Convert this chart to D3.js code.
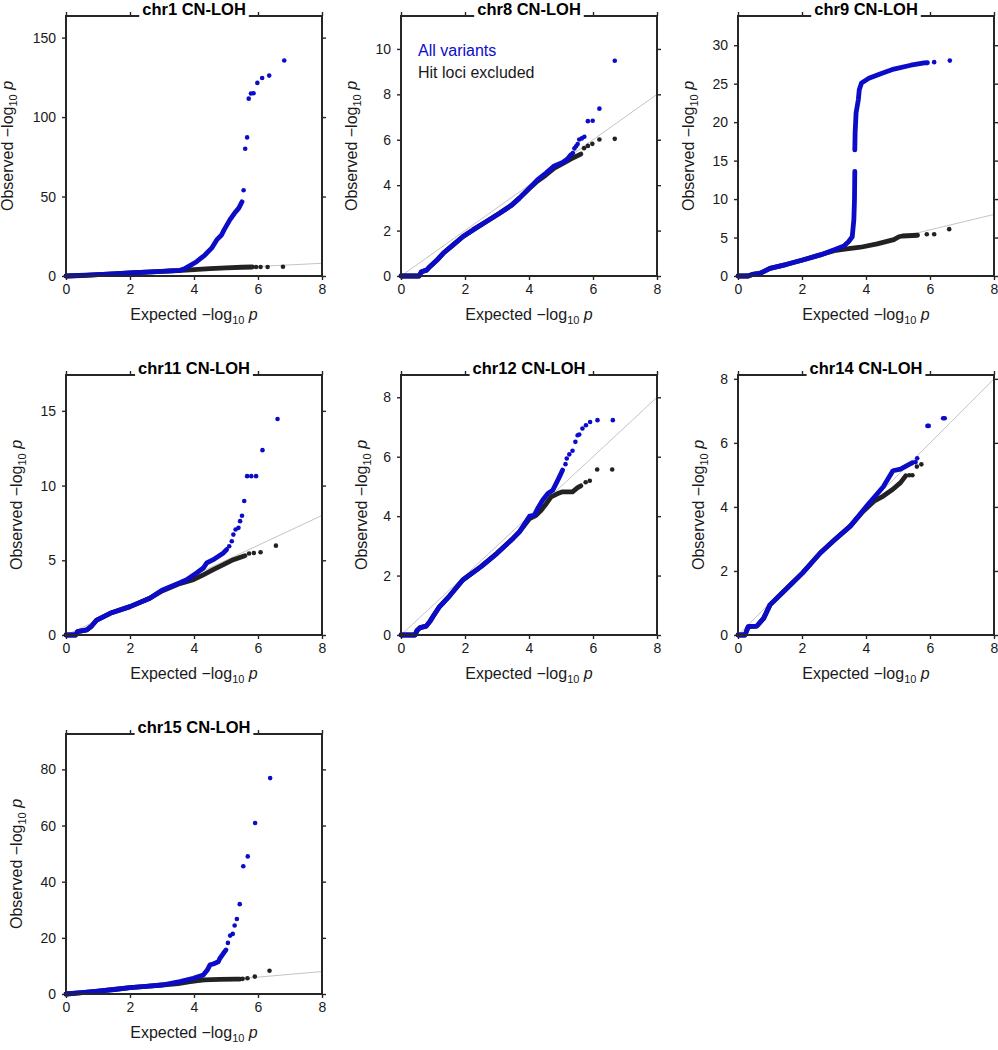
<!DOCTYPE html>
<html><head><meta charset="utf-8">
<script src="https://cdn.jsdelivr.net/npm/d3@7"></script>
<style>body{margin:0;background:#fff} svg{display:block} text{font-family:"Liberation Sans",Arial,Helvetica,sans-serif}</style>
</head><body><svg id="c" width="998" height="1050"></svg>
<script>
// ---------------- data ----------------
const titles = ["chr1 CN-LOH","chr8 CN-LOH","chr9 CN-LOH","chr11 CN-LOH","chr12 CN-LOH","chr14 CN-LOH","chr15 CN-LOH"];
const xDomain = [0, 8];
const xTicks = [0, 2, 4, 6, 8];
const yMaxes = [163.6, 11.45, 33.8, 17.4, 8.75, 8.12, 92.6];
const yTickSets = [[0,50,100,150],[0,2,4,6,8,10],[0,5,10,15,20,25,30],[0,5,10,15],[0,2,4,6,8],[0,2,4,6,8],[0,20,40,60,80]];
const refLine = [[0,0],[8,8]];
const legendLabels = ["All variants", "Hit loci excluded"];

// chr1
const chr1AllLine = [[0,0],[0.5,0.3],[1,0.9],[1.5,1.4],[2,1.9],[2.5,2.4],[3,2.9],[3.3,3.3],[3.56,3.6],[3.7,4.5],[3.82,5.9],[4.08,9],[4.34,13.2],[4.55,17.5],[4.71,22.7],[4.86,25.8],[4.94,29],[5.12,35.3],[5.28,39.9],[5.4,42.7],[5.5,46.7]];
const chr1AllDots = [[5.55,54],[5.6,80.1],[5.66,87.2],[5.71,111.6],[5.78,114.8],[5.86,115],[5.98,121.5],[6.13,124.6],[6.35,126.1],[6.82,135.6]];
const chr1ExclLine = [[0,0],[1,0.9],[2,1.9],[3,2.9],[3.5,3.4],[4,4.0],[4.5,4.6],[5,5.1],[5.5,5.5],[5.82,5.65]];
const chr1ExclDots = [[5.94,5.7],[6.08,5.7],[6.3,5.7],[6.78,5.8]];
// chr8
const chr8AllLine = [[0,0],[0.57,0],[0.64,0.19],[0.8,0.26],[0.9,0.41],[1.11,0.68],[1.32,1.0],[1.63,1.37],[1.94,1.74],[2.25,2.03],[2.67,2.4],[3.08,2.76],[3.44,3.1],[3.7,3.43],[4.01,3.87],[4.27,4.24],[4.53,4.53],[4.79,4.85],[5.05,5.0],[5.2,5.15],[5.31,5.34]];
const chr8AllDots = [[5.37,5.41],[5.42,5.62],[5.47,5.71],[5.52,5.81],[5.57,6.01],[5.65,6.06],[5.73,6.13],[5.84,6.82],[5.99,6.84],[6.2,7.37],[6.68,9.48]];
const chr8ExclLine = [[0,0],[0.57,0],[0.64,0.19],[0.8,0.26],[0.9,0.41],[1.11,0.68],[1.32,1.0],[1.63,1.37],[1.94,1.74],[2.25,2.03],[2.67,2.4],[3.08,2.76],[3.44,3.1],[3.7,3.43],[4.01,3.85],[4.27,4.18],[4.53,4.45],[4.79,4.75],[5.05,4.95],[5.3,5.15],[5.62,5.37]];
const chr8ExclDots = [[5.72,5.63],[5.84,5.73],[5.98,5.82],[6.2,6.01],[6.68,6.04]];
// chr9 (null = gap in the dense run)
const chr9AllLine = [[0,0],[0.32,0],[0.45,0.2],[0.69,0.35],[1.0,1.0],[1.53,1.52],[2.02,2.08],[2.57,2.74],[2.99,3.39],[3.31,3.9],[3.46,4.48],[3.57,5.1],[3.62,7.3],[3.64,9.9],[3.65,13.6],null,[3.65,16.4],[3.66,18.6],[3.69,21.2],[3.76,22.9],[3.79,24.2],[3.86,25.1],[4.09,25.7],[4.46,26.3],[4.87,26.9],[5.4,27.4],[5.82,27.7],[5.92,27.72]];
const chr9AllDots = [[6.13,27.8],[6.62,28.0]];
const chr9ExclLine = [[0,0],[0.32,0],[0.45,0.2],[0.69,0.35],[1.0,1.0],[1.53,1.52],[2.02,2.08],[2.57,2.74],[2.99,3.3],[3.4,3.52],[3.83,3.74],[4.35,4.17],[4.87,4.72],[5.03,5.1],[5.14,5.2],[5.61,5.3]];
const chr9ExclDots = [[5.9,5.43],[6.13,5.43],[6.6,6.09]];
// chr11
const chr11AllLine = [[0,0],[0.3,0],[0.36,0.22],[0.65,0.34],[0.8,0.6],[0.96,1.0],[1.38,1.45],[2.0,1.9],[2.62,2.46],[3.0,3.0],[3.56,3.5],[3.77,3.7],[4.08,4.15],[4.29,4.48],[4.4,4.82],[4.6,5.04],[4.92,5.49],[5.02,5.72]];
const chr11AllDots = [[5.1,5.94],[5.18,6.27],[5.23,6.72],[5.3,7.06],[5.39,7.17],[5.44,7.62],[5.5,7.98],[5.57,8.97],[5.66,10.63],[5.79,10.63],[5.94,10.63],[6.14,12.37],[6.61,14.46]];
const chr11ExclLine = [[0,0],[0.3,0],[0.36,0.22],[0.65,0.34],[0.8,0.6],[0.96,1.0],[1.38,1.45],[2.0,1.9],[2.62,2.46],[3.0,2.95],[3.5,3.4],[3.98,3.7],[4.29,4.03],[4.6,4.37],[4.92,4.71],[5.23,5.04],[5.59,5.31]];
const chr11ExclDots = [[5.72,5.45],[5.87,5.49],[6.08,5.54],[6.56,5.98]];
// chr12
const chr12AllLine = [[0,0],[0.44,0],[0.5,0.15],[0.6,0.25],[0.79,0.3],[0.9,0.45],[1.0,0.62],[1.2,0.95],[1.52,1.32],[1.93,1.85],[2.5,2.3],[3.0,2.75],[3.5,3.25],[3.7,3.47],[4.02,4.0],[4.17,4.03],[4.27,4.26],[4.43,4.54],[4.59,4.76],[4.74,4.87],[4.85,5.1],[4.95,5.32],[5.05,5.55]];
const chr12AllDots = [[5.14,5.75],[5.18,5.94],[5.26,6.08],[5.36,6.2],[5.45,6.5],[5.52,6.72],[5.57,6.75],[5.67,6.95],[5.78,7.06],[5.91,7.17],[6.14,7.23],[6.62,7.23]];
const chr12ExclLine = [[0,0],[0.44,0],[0.5,0.15],[0.6,0.25],[0.79,0.3],[0.9,0.45],[1.0,0.62],[1.2,0.95],[1.52,1.32],[1.93,1.85],[2.5,2.3],[3.0,2.75],[3.5,3.25],[3.7,3.47],[4.02,3.92],[4.22,4.03],[4.38,4.2],[4.54,4.42],[4.69,4.65],[4.9,4.76],[5.05,4.82],[5.36,4.82],[5.52,4.96],[5.62,5.02]];
const chr12ExclDots = [[5.77,5.14],[5.9,5.19],[6.13,5.57],[6.6,5.57]];
// chr14
const chr14AllLine = [[0,0],[0.22,0],[0.32,0.26],[0.59,0.28],[0.8,0.52],[1.0,0.94],[1.53,1.46],[2.02,1.94],[2.57,2.56],[3.03,2.98],[3.51,3.4],[4.04,4.05],[4.54,4.63],[4.84,5.13],[5.08,5.18],[5.35,5.33],[5.45,5.38]];
const chr14AllDots = [[5.55,5.4],[5.6,5.52],[5.92,6.53],[5.96,6.53],[6.41,6.77],[6.46,6.77]];
const chr14ExclLine = [[0,0],[0.22,0],[0.32,0.26],[0.59,0.28],[0.8,0.52],[1.0,0.94],[1.53,1.46],[2.02,1.94],[2.57,2.56],[3.03,2.98],[3.51,3.4],[3.9,3.85],[4.25,4.18],[4.54,4.34],[4.84,4.55],[5.08,4.76],[5.24,4.97]];
const chr14ExclDots = [[5.35,4.99],[5.45,4.99],[5.59,5.26],[5.73,5.33]];
// chr15
const chr15AllLine = [[0,0],[0.5,0.5],[1,1],[1.5,1.6],[2,2.3],[2.5,2.7],[3,3.2],[3.56,4.4],[3.98,5.6],[4.29,6.8],[4.42,8.6],[4.5,10.4],[4.6,10.7],[4.76,11.5],[4.81,12.7],[4.92,14.5],[5.0,15.7]];
const chr15AllDots = [[5.06,18.2],[5.13,20.8],[5.21,21.4],[5.27,24.4],[5.34,26.7],[5.43,32.0],[5.54,45.5],[5.68,49.0],[5.91,60.9],[6.38,76.9]];
const chr15ExclLine = [[0,0],[0.5,0.5],[1,1],[1.5,1.6],[2,2.3],[2.5,2.7],[3,3.2],[3.5,3.7],[3.88,4.4],[4.29,5.0],[4.8,5.2],[5.3,5.3],[5.44,5.3]];
const chr15ExclDots = [[5.52,5.4],[5.67,5.6],[5.9,6.2],[6.36,8.3]];

const allLines  = [chr1AllLine, chr8AllLine, chr9AllLine, chr11AllLine, chr12AllLine, chr14AllLine, chr15AllLine];
const allDots   = [chr1AllDots, chr8AllDots, chr9AllDots, chr11AllDots, chr12AllDots, chr14AllDots, chr15AllDots];
const exclLines = [chr1ExclLine, chr8ExclLine, chr9ExclLine, chr11ExclLine, chr12ExclLine, chr14ExclLine, chr15ExclLine];
const exclDots  = [chr1ExclDots, chr8ExclDots, chr9ExclDots, chr11ExclDots, chr12ExclDots, chr14ExclDots, chr15ExclDots];

// ---------------- layout / style ----------------
const colX = [66, 401, 738], rowY = [16, 375, 734];
const W = 256, H = 260;
const BLUE = "#0b0bc8", BLACK = "#222222", AXIS = "#262626", TXT = "#1a1a1a";
const R = 2.3, LW = 4.8;
const FONT = '"Liberation Sans",Arial,Helvetica,sans-serif';

const svg = d3.select("#c");
svg.append("rect").attr("width",998).attr("height",1050).attr("fill","#fff");

titles.forEach((title, i) => {
  const g = svg.append("g").attr("transform", `translate(${colX[i%3]},${rowY[Math.floor(i/3)]})`);
  const x = d3.scaleLinear().domain(xDomain).range([0, W]);
  const y = d3.scaleLinear().domain([0, yMaxes[i]]).range([H, 0]);
  const line = d3.line().defined(d => d != null).x(d => x(d[0])).y(d => y(d[1]));

  // reference diagonal
  g.append("path").attr("d", line(refLine)).attr("fill","none").attr("stroke","#c4c4c4").attr("stroke-width",1);

  // hit loci excluded (black)
  g.append("path").attr("d", line(exclLines[i])).attr("fill","none").attr("stroke",BLACK)
    .attr("stroke-width",LW).attr("stroke-linecap","round").attr("stroke-linejoin","round");
  g.selectAll(null).data(exclDots[i]).enter().append("circle")
    .attr("cx", d => x(d[0])).attr("cy", d => y(d[1])).attr("r", R).attr("fill", BLACK);

  // all variants (blue)
  g.append("path").attr("d", line(allLines[i])).attr("fill","none").attr("stroke",BLUE)
    .attr("stroke-width",LW).attr("stroke-linecap","round").attr("stroke-linejoin","round");
  g.selectAll(null).data(allDots[i]).enter().append("circle")
    .attr("cx", d => x(d[0])).attr("cy", d => y(d[1])).attr("r", R).attr("fill", BLUE);

  // axes (outward ticks on all four sides)
  const yt = yTickSets[i];
  const axB = g.append("g").attr("transform",`translate(0,${H})`)
    .call(d3.axisBottom(x).tickValues(xTicks).tickSize(4).tickSizeOuter(0).tickPadding(4));
  const axT = g.append("g").call(d3.axisTop(x).tickValues(xTicks).tickSize(4).tickSizeOuter(0).tickFormat(""));
  const axL = g.append("g").call(d3.axisLeft(y).tickValues(yt).tickSize(4).tickSizeOuter(0).tickPadding(6));
  const axR = g.append("g").attr("transform",`translate(${W},0)`)
    .call(d3.axisRight(y).tickValues(yt).tickSize(4).tickSizeOuter(0).tickFormat(""));
  [axB, axT, axL, axR].forEach(a => {
    a.select(".domain").remove();
    a.selectAll(".tick line").attr("stroke", AXIS).attr("stroke-width", 1.4);
    a.selectAll("text").attr("font-size", 14).attr("fill", TXT).attr("font-family", FONT);
  });
  // box frame
  g.append("rect").attr("x",0).attr("y",0).attr("width",W).attr("height",H)
    .attr("fill","none").attr("stroke",AXIS).attr("stroke-width",2);

  // title with white box covering top border
  const tt = g.append("text").attr("x", W/2).attr("y", -1).attr("text-anchor","middle")
    .attr("font-size", 16.5).attr("font-weight","bold").attr("fill","#000").text(title);
  const bb = tt.node().getBBox();
  g.insert("rect", () => tt.node()).attr("x", bb.x - 3).attr("y", -6).attr("width", bb.width + 6)
    .attr("height", 8).attr("fill", "#fff");

  // y label
  const maxLen = d3.max(yt, v => String(v).length);
  const off = 25 + 9.5 * maxLen;
  const yl = g.append("text").attr("transform", `translate(${-off},${H/2}) rotate(-90)`)
    .attr("text-anchor","middle").attr("font-size",16).attr("fill",TXT);
  yl.append("tspan").text("Observed \u2212log");
  yl.append("tspan").attr("font-size",11).attr("dy",4).text("10");
  yl.append("tspan").attr("dy",-4).text(" ");
  yl.append("tspan").attr("font-style","italic").text("p");

  // x label
  const xl = g.append("text").attr("x", W/2).attr("y", H + 44).attr("text-anchor","middle")
    .attr("font-size",16).attr("fill",TXT);
  xl.append("tspan").text("Expected \u2212log");
  xl.append("tspan").attr("font-size",11).attr("dy",4).text("10");
  xl.append("tspan").attr("dy",-4).text(" ");
  xl.append("tspan").attr("font-style","italic").text("p");

  // legend (chr8 panel only)
  if (i === 1) {
    [BLUE, BLACK].forEach((c, k) => {
      g.append("text").attr("x", 17).attr("y", 40 + k*21.7).attr("font-size",16)
        .attr("fill", c === BLACK ? TXT : c).text(legendLabels[k]);
    });
  }
});
</script></body></html>
